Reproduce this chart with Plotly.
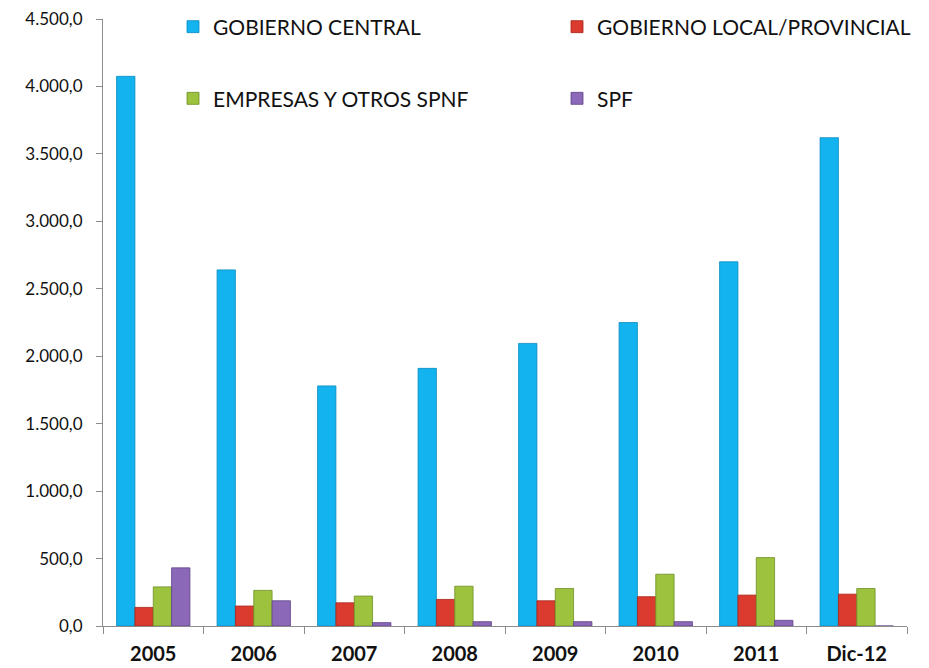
import plotly.graph_objects as go

categories = ["2005", "2006", "2007", "2008", "2009", "2010", "2011", "Dic-12"]
gobierno_central = [4075, 2640, 1780, 1910, 2095, 2250, 2700, 3620]
gobierno_local = [138, 148, 172, 197, 187, 217, 229, 236]
empresas = [290, 264, 222, 295, 278, 384, 507, 278]
spf = [431, 187, 25, 32, 32, 32, 42, 0]
y_ticks = [0, 500, 1000, 1500, 2000, 2500, 3000, 3500, 4000, 4500]
y_tick_labels = ["0,0", "500,0", "1.000,0", "1.500,0", "2.000,0", "2.500,0",
                 "3.000,0", "3.500,0", "4.000,0", "4.500,0"]

series = [
    ("GOBIERNO CENTRAL", gobierno_central, "#12B3EE", "#0A8CC0", "legend"),
    ("GOBIERNO LOCAL/PROVINCIAL", gobierno_local, "#DB3A2E", "#A8231B", "legend2"),
    ("EMPRESAS Y OTROS SPNF", empresas, "#9CC23E", "#6F8F26", "legend3"),
    ("SPF", spf, "#8B68B8", "#5E4388", "legend4"),
]

fig = go.Figure()
for name, vals, col, edge, lg in series:
    fig.add_trace(go.Bar(
        x=categories, y=vals, name=name,
        marker=dict(color=col, line=dict(color=edge, width=0.8)),
        legend=lg,
    ))

font_family = "Lato, 'Open Sans', Arial, sans-serif"
leg_common = dict(
    orientation="v", xanchor="left", yanchor="middle",
    xref="container", yref="container",
    font=dict(family=font_family, size=21, color="#111111"),
    bgcolor="rgba(0,0,0,0)", itemclick=False, itemdoubleclick=False,
    itemwidth=30,
)

row1 = 1 - 27 / 668
row2 = 1 - 98.7 / 668
col1 = 173 / 929
col2 = 557 / 929

fig.update_layout(
    width=929, height=668,
    margin=dict(l=103, r=22, t=19, b=42, autoexpand=False),
    paper_bgcolor="white", plot_bgcolor="white",
    barmode="group", bargap=0.27, bargroupgap=0,
    font=dict(family=font_family, color="#111111"),
    showlegend=True,
    legend=dict(x=col1, y=row1, **leg_common),
    legend2=dict(x=col2, y=row1, **leg_common),
    legend3=dict(x=col1, y=row2, **leg_common),
    legend4=dict(x=col2, y=row2, **leg_common),
    xaxis=dict(
        type="category", showline=True, linecolor="#8c8c8c", linewidth=1.2,
        ticks="outside", tickson="boundaries", ticklen=7, tickcolor="#8c8c8c",
        tickfont=dict(family=font_family, size=20, color="#111111", weight="bold"),
        ticklabelstandoff=10,
        showgrid=False,
    ),
    yaxis=dict(
        range=[0, 4500], tickvals=y_ticks, ticktext=y_tick_labels,
        showline=True, linecolor="#8c8c8c", linewidth=1.2,
        ticks="outside", ticklen=6, tickcolor="#8c8c8c",
        tickfont=dict(family=font_family, size=17, color="#111111"),
        ticklabelstandoff=10,
        showgrid=False, zeroline=False,
    ),
)

fig.write_html("out.html", config={"displayModeBar": False},
               post_script="document.body.style.margin='0';")
